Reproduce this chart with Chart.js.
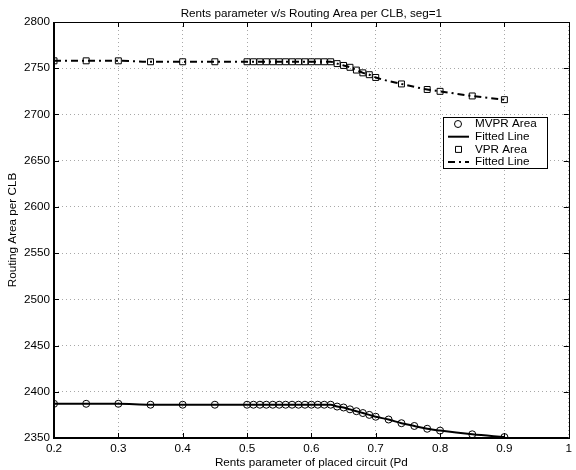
<!DOCTYPE html>
<html>
<head>
<meta charset="utf-8">
<script src="https://cdn.jsdelivr.net/npm/chart.js@4.4.1/dist/chart.umd.min.js"></script>
<style>
  html, body { margin: 0; padding: 0; background: #fff; }
  #wrap { width: 576px; height: 470px; }
</style>
</head>
<body>
<div id="wrap"><canvas id="grafico" width="576" height="470"></canvas></div>
<script>
// Rent's parameter of each placed circuit (MVPR runs)
const pdMvpr = [0.2, 0.25, 0.3, 0.35, 0.4, 0.45,
  0.5, 0.51, 0.52, 0.53, 0.54, 0.55, 0.56, 0.57, 0.58, 0.59, 0.6,
  0.61, 0.62, 0.63, 0.64, 0.65, 0.66, 0.67, 0.68, 0.69, 0.7,
  0.72, 0.74, 0.76, 0.78, 0.8, 0.85, 0.9];
const areaMvpr = [2387, 2387, 2387, 2386, 2386, 2386,
  2386, 2386, 2386, 2386, 2386, 2386, 2386, 2386, 2386, 2386, 2386,
  2386, 2386, 2386, 2384, 2383, 2381, 2379, 2377, 2375, 2373,
  2370, 2366, 2363, 2360, 2358, 2354, 2351];

// VPR runs
const pdVpr = [0.2, 0.25, 0.3, 0.35, 0.4, 0.45,
  0.5, 0.51, 0.52, 0.53, 0.54, 0.55, 0.56, 0.57, 0.58, 0.59, 0.6,
  0.61, 0.62, 0.63, 0.64, 0.65, 0.66, 0.67, 0.68, 0.69, 0.7,
  0.74, 0.78, 0.8, 0.85, 0.9];
const areaVpr = [2758, 2758, 2758, 2757, 2757, 2757,
  2757, 2757, 2757, 2757, 2757, 2757, 2757, 2757, 2757, 2757, 2757,
  2757, 2757, 2757, 2755, 2753, 2751, 2748, 2745, 2743, 2740,
  2733, 2727, 2725, 2720, 2716];

const xTicks = [0.2, 0.3, 0.4, 0.5, 0.6, 0.7, 0.8, 0.9, 1];
const yTicks = [2350, 2400, 2450, 2500, 2550, 2600, 2650, 2700, 2750, 2800];
const legendLabels = ["MVPR Area", "Fitted Line", "VPR Area", "Fitted Line"];

const fonte = "'Liberation Sans', Arial, Helvetica, sans-serif";
const tamFonte = 11.7;
const pontos = (xs, ys) => xs.map((x, i) => ({ x, y: ys[i] }));
const tracoPonto = [7, 4, 2, 4];

// moldura da figura: caixa, ticks para dentro, título e legenda
const moldura = {
  id: "moldura",
  afterDraw(chart) {
    const { ctx, chartArea: a, scales: { x, y } } = chart;
    ctx.save();
    ctx.strokeStyle = "#000";
    ctx.lineWidth = 1;
    ctx.beginPath();
    xTicks.forEach(v => {
      const px = Math.round(x.getPixelForValue(v)) + 0.5;
      ctx.moveTo(px, a.bottom); ctx.lineTo(px, a.bottom - 5);
      ctx.moveTo(px, a.top); ctx.lineTo(px, a.top + 5);
    });
    yTicks.forEach(v => {
      const py = Math.round(y.getPixelForValue(v)) + 0.5;
      ctx.moveTo(a.left, py); ctx.lineTo(a.left + 5, py);
      ctx.moveTo(a.right, py); ctx.lineTo(a.right - 5, py);
    });
    ctx.stroke();
    ctx.strokeRect(Math.round(a.left) + 0.5, Math.round(a.top) + 0.5,
      Math.round(a.width), Math.round(a.height));
    // eixos esquerdo e inferior mais grossos
    ctx.lineWidth = 2;
    ctx.beginPath();
    ctx.moveTo(Math.round(a.left), a.top);
    ctx.lineTo(Math.round(a.left), Math.round(a.bottom));
    ctx.lineTo(a.right, Math.round(a.bottom));
    ctx.stroke();

    // título
    ctx.fillStyle = "#000";
    ctx.font = tamFonte + "px " + fonte;
    ctx.textAlign = "center";
    ctx.textBaseline = "middle";
    ctx.fillText("Rents parameter v/s Routing Area per CLB, seg=1", (a.left + a.right) / 2, a.top - 8);

    // legenda
    const lx = 443, ly = 117, lw = 104, lh = 51, passo = 12.7;
    ctx.fillStyle = "#fff";
    ctx.fillRect(lx, ly, lw, lh);
    ctx.lineWidth = 1;
    ctx.strokeRect(lx + 0.5, ly + 0.5, lw, lh);
    ctx.fillStyle = "#000";
    ctx.textAlign = "left";
    legendLabels.forEach((txt, i) => {
      const cy = ly + 7 + i * passo;
      ctx.fillText(txt, 475, cy);
      ctx.beginPath();
      if (i === 0) {
        ctx.lineWidth = 1;
        ctx.arc(458, cy, 3.5, 0, Math.PI * 2);
      } else if (i === 2) {
        ctx.lineWidth = 1;
        ctx.rect(455.5, cy - 3, 6, 6);
      } else {
        ctx.lineWidth = 2;
        ctx.setLineDash(i === 3 ? tracoPonto : []);
        ctx.moveTo(448, cy); ctx.lineTo(469, cy);
      }
      ctx.stroke();
      ctx.setLineDash([]);
    });
    ctx.restore();
  }
};

new Chart(document.getElementById("grafico"), {
  type: "scatter",
  data: {
    datasets: [
      {
        label: legendLabels[0],
        data: pontos(pdMvpr, areaMvpr),
        showLine: false,
        pointStyle: "circle",
        pointRadius: 3.5,
        borderColor: "#000",
        backgroundColor: "rgba(0,0,0,0)",
        borderWidth: 1
      },
      {
        label: legendLabels[1],
        data: pontos(pdMvpr, areaMvpr),
        showLine: true,
        pointRadius: 0,
        borderColor: "#000",
        borderWidth: 2,
        cubicInterpolationMode: "monotone"
      },
      {
        label: legendLabels[2],
        data: pontos(pdVpr, areaVpr),
        showLine: false,
        pointStyle: "rect",
        pointRadius: 4.2,
        borderColor: "#000",
        backgroundColor: "rgba(0,0,0,0)",
        borderWidth: 1
      },
      {
        label: legendLabels[3],
        data: pontos(pdVpr, areaVpr),
        showLine: true,
        pointRadius: 0,
        borderColor: "#000",
        borderWidth: 2,
        borderDash: tracoPonto,
        cubicInterpolationMode: "monotone"
      }
    ]
  },
  options: {
    responsive: false,
    animation: false,
    layout: { padding: { top: 22, right: 0, left: 0, bottom: 0 } },
    plugins: { legend: { display: false }, tooltip: { enabled: false }, title: { display: false } },
    scales: {
      x: {
        type: "linear",
        min: 0.2,
        max: 1,
        afterBuildTicks: s => { s.ticks = xTicks.map(v => ({ value: v })); },
        afterFit: s => { s.height = 32; },
        ticks: {
          color: "#000",
          font: { family: fonte, size: tamFonte },
          padding: 4,
          maxRotation: 0,
          callback: v => String(v)
        },
        grid: { color: "#a8a8a8", lineWidth: 1, drawTicks: false },
        border: { display: false, dash: [1, 3] },
        title: {
          display: true,
          text: "Rents parameter of placed circuit (Pd",
          color: "#000",
          font: { family: fonte, size: tamFonte },
          padding: { top: 0, bottom: 0 }
        }
      },
      y: {
        type: "linear",
        min: 2350,
        max: 2800,
        afterBuildTicks: s => { s.ticks = yTicks.map(v => ({ value: v })); },
        afterFit: s => { s.width = 54; },
        ticks: {
          color: "#000",
          font: { family: fonte, size: tamFonte },
          padding: 4,
          callback: v => String(v)
        },
        grid: { color: "#a8a8a8", lineWidth: 1, drawTicks: false },
        border: { display: false, dash: [1, 3] },
        title: {
          display: true,
          text: "Routing Area per CLB",
          color: "#000",
          font: { family: fonte, size: tamFonte },
          padding: { top: 6, bottom: 0 }
        }
      }
    }
  },
  plugins: [moldura]
});
</script>
</body>
</html>
